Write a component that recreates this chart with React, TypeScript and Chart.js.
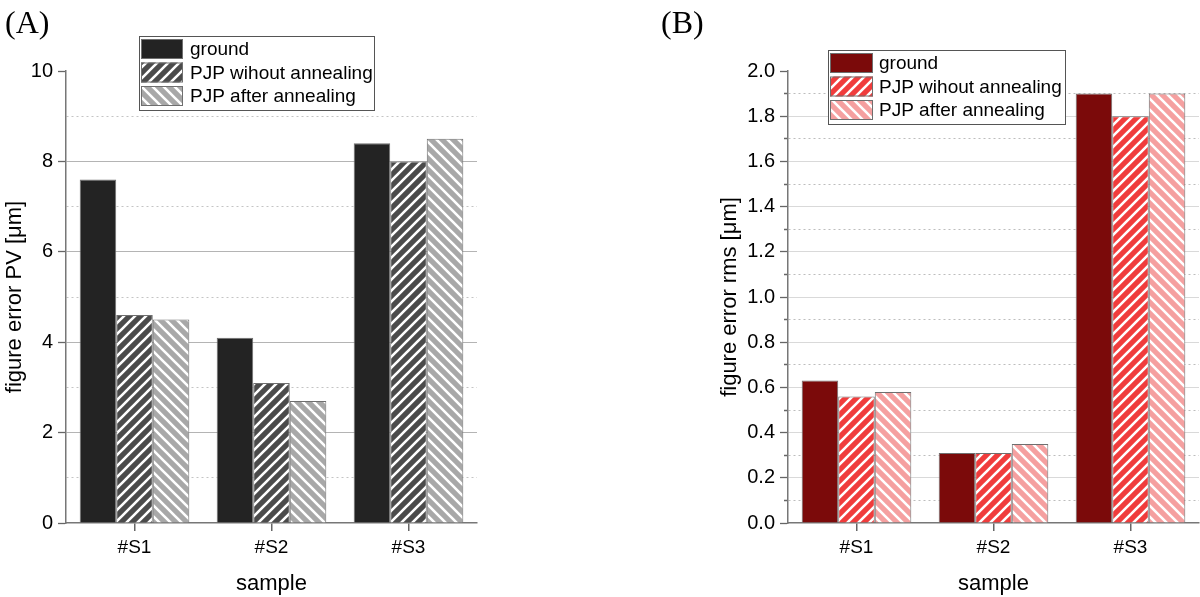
import React, { useEffect, useRef } from 'react';
import { Chart, registerables } from 'chart.js';

Chart.register(...registerables);

// ---------- data ----------
const categories = ['#S1', '#S2', '#S3'];
const seriesNames = ['ground', 'PJP wihout annealing', 'PJP after annealing'];

const pvGround = [7.6, 4.1, 8.4];
const pvWithout = [4.6, 3.1, 8.0];
const pvAfter = [4.5, 2.7, 8.5];

const rmsGround = [0.63, 0.31, 1.9];
const rmsWithout = [0.56, 0.31, 1.8];
const rmsAfter = [0.58, 0.35, 1.9];

const pvMajorTicks = [0, 2, 4, 6, 8, 10];
const pvTickLabels = ['0', '2', '4', '6', '8', '10'];
const rmsMajorTicks = [0, 0.2, 0.4, 0.6, 0.8, 1.0, 1.2, 1.4, 1.6, 1.8, 2.0];
const rmsTickLabels = ['0.0', '0.2', '0.4', '0.6', '0.8', '1.0', '1.2', '1.4', '1.6', '1.8', '2.0'];

const SANS = 'Arial, "Liberation Sans", sans-serif';
const SERIF = '"Times New Roman", "Liberation Serif", serif';

function stripes(bg: string, dir: 1 | -1): CanvasPattern | string {
  const s = 11;
  const c = document.createElement('canvas');
  c.width = s;
  c.height = s;
  const g = c.getContext('2d');
  if (!g) return bg;
  g.fillStyle = bg;
  g.fillRect(0, 0, s, s);
  g.strokeStyle = '#ffffff';
  g.lineWidth = 2.6;
  g.beginPath();
  if (dir === 1) {
    g.moveTo(-3, s + 3); g.lineTo(s + 3, -3);
    g.moveTo(-3, 3); g.lineTo(3, -3);
    g.moveTo(s - 3, s + 3); g.lineTo(s + 3, s - 3);
  } else {
    g.moveTo(-3, -3); g.lineTo(s + 3, s + 3);
    g.moveTo(s - 3, -3); g.lineTo(s + 3, 3);
    g.moveTo(-3, s - 3); g.lineTo(3, s + 3);
  }
  g.stroke();
  return g.createPattern(c, 'repeat') || bg;
}

const boxLegend = {
  id: 'boxLegend',
  afterDraw(chart: any, _args: any, opts: any) {
    const { ctx } = chart;
    const { x, y, w, h, rowH, swW, swH, textX, label, labelX, labelY } = opts;
    ctx.save();
    ctx.fillStyle = '#ffffff';
    ctx.fillRect(x, y, w, h);
    ctx.strokeStyle = '#555555';
    ctx.lineWidth = 1;
    ctx.strokeRect(x + 0.5, y + 0.5, w, h);
    chart.data.datasets.forEach((ds: any, i: number) => {
      const sy = y + 3 + i * rowH;
      ctx.fillStyle = ds.backgroundColor;
      ctx.fillRect(x + 2, sy, swW, swH);
      ctx.strokeStyle = ds.borderColor;
      ctx.lineWidth = 1;
      ctx.strokeRect(x + 2.5, sy + 0.5, swW - 1, swH - 1);
      ctx.fillStyle = '#000000';
      ctx.font = `19px ${SANS}`;
      ctx.textBaseline = 'middle';
      ctx.textAlign = 'left';
      ctx.fillText(ds.label, textX, sy + swH / 2 + 1);
    });
    ctx.font = `32px ${SERIF}`;
    ctx.textBaseline = 'alphabetic';
    ctx.fillStyle = '#000000';
    ctx.fillText(label, labelX, labelY);
    ctx.restore();
  },
};

function makeChart(
  canvas: HTMLCanvasElement,
  p: {
    series: number[][];
    colors: (CanvasPattern | string)[];
    max: number;
    step: number;
    majors: number[];
    labels: string[];
    yTitle: string;
    yWidth: number;
    yTitlePad: number;
    padLeft: number;
    padRight: number;
    majorGrid: string;
    minorGrid: string;
    minorTicks: boolean;
    legend: any;
  }
) {
  const isMajor = (v: number) => p.majors.some((m) => Math.abs(m - v) < 1e-6);
  const idxOf = (v: number) => p.majors.findIndex((m) => Math.abs(m - v) < 1e-6);
  return new Chart(canvas, {
    type: 'bar',
    data: {
      labels: categories,
      datasets: p.series.map((d, i) => ({
        label: seriesNames[i],
        data: d,
        backgroundColor: p.colors[i] as any,
        borderColor: '#6f6f6f',
        borderWidth: 1,
        categoryPercentage: 0.8,
        barPercentage: 1.0,
      })),
    },
    options: {
      animation: false,
      responsive: true,
      maintainAspectRatio: false,
      layout: { padding: { left: p.padLeft, right: p.padRight, top: 71, bottom: 0 } },
      plugins: {
        legend: { display: false },
        tooltip: { enabled: false },
        boxLegend: p.legend,
      } as any,
      scales: {
        x: {
          grid: {
            display: true,
            drawOnChartArea: false,
            offset: false,
            tickLength: 8,
            color: '#666666',
            lineWidth: 1.5,
          },
          border: { color: '#777777', width: 1.5 },
          ticks: { font: { size: 19, family: SANS }, color: '#000000', padding: 5 },
          title: {
            display: true,
            text: 'sample',
            font: { size: 22, family: SANS },
            color: '#000000',
            padding: { top: 0, bottom: 0 },
          },
          afterFit: (s: any) => {
            s.height = 74;
          },
        },
        y: {
          min: 0,
          max: p.max,
          ticks: {
            stepSize: p.step,
            autoSkip: false,
            font: { size: 20, family: SANS },
            color: '#000000',
            padding: 5,
            callback: (v: any) => {
              const i = idxOf(Number(v));
              return i >= 0 ? p.labels[i] : '';
            },
          },
          grid: {
            tickLength: 8,
            lineWidth: 1,
            color: (c: any) => {
              const v = c.tick ? c.tick.value : undefined;
              if (v === undefined) return 'rgba(0,0,0,0)';
              if (v <= 1e-9 || v >= p.max - 1e-9) return 'rgba(0,0,0,0)';
              return isMajor(v) ? p.majorGrid : p.minorGrid;
            },
            tickColor: (c: any) => {
              const v = c.tick ? c.tick.value : undefined;
              if (v === undefined) return 'rgba(0,0,0,0)';
              if (isMajor(v)) return '#666666';
              return p.minorTicks ? '#666666' : 'rgba(0,0,0,0)';
            },
            tickWidth: 1.3,
            tickBorderDash: (c: any) => {
              const v = c.tick ? c.tick.value : undefined;
              if (v === undefined || isMajor(v)) return [];
              return [0, 4, 8];
            },
          },
          border: {
            color: '#777777',
            width: 1.5,
            dash: (c: any) => {
              const v = c.tick ? c.tick.value : undefined;
              if (v === undefined || isMajor(v)) return [];
              return [2, 3];
            },
          },
          title: {
            display: true,
            text: p.yTitle,
            font: { size: 22, family: SANS },
            color: '#000000',
            padding: { top: p.yTitlePad, bottom: 0 },
          },
          afterFit: (s: any) => {
            s.width = p.yWidth;
          },
        },
      } as any,
    },
    plugins: [boxLegend as any],
  });
}

export default function App() {
  const leftRef = useRef<HTMLCanvasElement>(null);
  const rightRef = useRef<HTMLCanvasElement>(null);

  useEffect(() => {
    document.body.style.margin = '0';
    const charts: Chart[] = [];
    if (leftRef.current) {
      charts.push(
        makeChart(leftRef.current, {
          series: [pvGround, pvWithout, pvAfter],
          colors: ['#232323', stripes('#4b4b4b', 1), stripes('#a8a8a8', -1)],
          max: 10,
          step: 1,
          majors: pvMajorTicks,
          labels: pvTickLabels,
          yTitle: 'figure error PV [μm]',
          yWidth: 66,
          yTitlePad: 2,
          padLeft: 0,
          padRight: 123,
          majorGrid: '#b4b4b4',
          minorGrid: '#c4c4c4',
          minorTicks: false,
          legend: {
            x: 139, y: 36, w: 235, h: 74, rowH: 23.5, swW: 42, swH: 20, textX: 190,
            label: '(A)', labelX: 5, labelY: 33,
          },
        })
      );
    }
    if (rightRef.current) {
      charts.push(
        makeChart(rightRef.current, {
          series: [rmsGround, rmsWithout, rmsAfter],
          colors: ['#7b0a0a', stripes('#f03c3c', 1), stripes('#f5a0a0', -1)],
          max: 2,
          step: 0.1,
          majors: rmsMajorTicks,
          labels: rmsTickLabels,
          yTitle: 'figure error rms [μm]',
          yWidth: 88,
          yTitlePad: 17,
          padLeft: 100,
          padRight: 1,
          majorGrid: '#d9d9d9',
          minorGrid: '#bdbdbd',
          minorTicks: true,
          legend: {
            x: 228, y: 50, w: 237, h: 74, rowH: 23.5, swW: 43, swH: 20, textX: 279,
            label: '(B)', labelX: 61, labelY: 33,
          },
        })
      );
    }
    return () => {
      charts.forEach((c) => c.destroy());
    };
  }, []);

  return (
    <div style={{ position: 'fixed', left: 0, top: 0, width: 1200, height: 597, background: '#ffffff' }}>
      <div style={{ position: 'absolute', left: 0, top: 0, width: 600, height: 597 }}>
        <canvas ref={leftRef} />
      </div>
      <div style={{ position: 'absolute', left: 600, top: 0, width: 600, height: 597 }}>
        <canvas ref={rightRef} />
      </div>
    </div>
  );
}
